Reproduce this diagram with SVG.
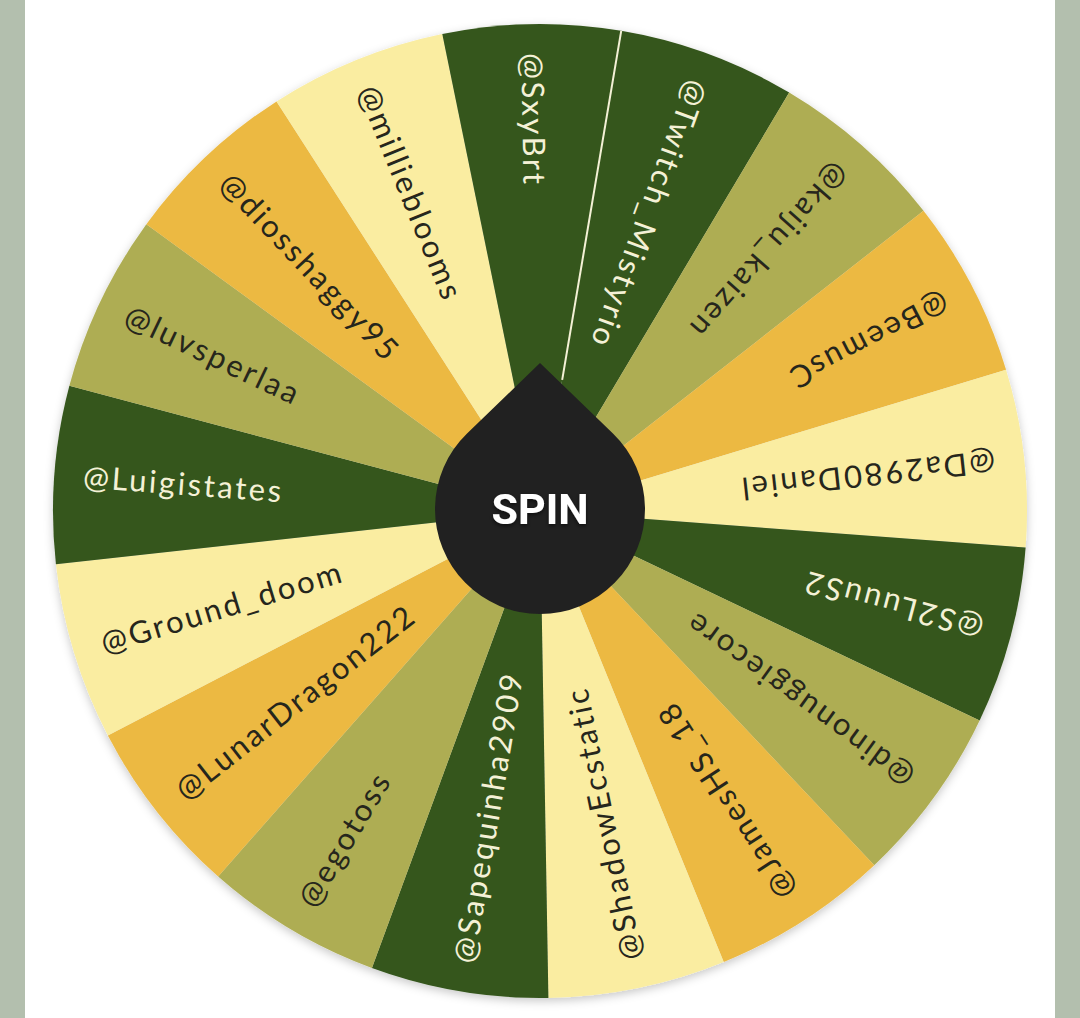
<svg xmlns="http://www.w3.org/2000/svg" width="1080" height="1018" viewBox="0 0 1080 1018">
<defs>
<style>
.dk{fill:#35561c}.ol{fill:#aead52}.mu{fill:#ecb942}.lt{fill:#faeda1}
.lbl{font-family:Lato,"Open Sans","DejaVu Sans",sans-serif;font-size:31px;letter-spacing:2.6px}
.tl{fill:#f4f1d6}.td{fill:#26261c}
.spin{font-family:Roboto,"Liberation Sans",sans-serif;font-weight:700;font-size:43px;fill:#ffffff}
</style>
<filter id="sh" x="-10%" y="-10%" width="120%" height="120%">
<feDropShadow dx="0" dy="3" stdDeviation="5" flood-color="#000" flood-opacity="0.22"/>
</filter>
<filter id="ts" x="-20%" y="-30%" width="140%" height="160%">
<feDropShadow dx="0" dy="2" stdDeviation="2" flood-color="#000" flood-opacity="0.6"/>
</filter>
</defs>
<rect x="0" y="0" width="1080" height="1018" fill="#b3bfae"/>
<rect x="25" y="0" width="1030" height="1018" fill="#ffffff"/>
<g id="wheel" filter="url(#sh)">
<path id="seg-twitch" class="dk" d="M540,511 L621.22,30.82 A487,487 0 0,1 789.19,92.58 Z"/>
<path id="seg-kaiju" class="ol" d="M540,511 L789.19,92.58 A487,487 0 0,1 923.52,210.86 Z"/>
<path id="seg-beemus" class="mu" d="M540,511 L923.52,210.86 A487,487 0 0,1 1006.04,369.66 Z"/>
<path id="seg-da2980" class="lt" d="M540,511 L1006.04,369.66 A487,487 0 0,1 1025.63,547.56 Z"/>
<path id="seg-s2luuus2" class="dk" d="M540,511 L1025.63,547.56 A487,487 0 0,1 979.64,720.53 Z"/>
<path id="seg-dinonuggie" class="ol" d="M540,511 L979.64,720.53 A487,487 0 0,1 874.25,865.19 Z"/>
<path id="seg-james" class="mu" d="M540,511 L874.25,865.19 A487,487 0 0,1 723.74,962.01 Z"/>
<path id="seg-shadow" class="lt" d="M540,511 L723.74,962.01 A487,487 0 0,1 548.40,997.93 Z"/>
<path id="seg-sapequinha" class="dk" d="M540,511 L548.40,997.93 A487,487 0 0,1 371.94,968.08 Z"/>
<path id="seg-egotoss" class="ol" d="M540,511 L371.94,968.08 A487,487 0 0,1 218.16,876.51 Z"/>
<path id="seg-lunar" class="mu" d="M540,511 L218.16,876.51 A487,487 0 0,1 107.87,735.56 Z"/>
<path id="seg-ground" class="lt" d="M540,511 L107.87,735.56 A487,487 0 0,1 55.92,564.29 Z"/>
<path id="seg-luigi" class="dk" d="M540,511 L55.92,564.29 A487,487 0 0,1 69.36,385.83 Z"/>
<path id="seg-luvs" class="ol" d="M540,511 L69.36,385.83 A487,487 0 0,1 146.36,224.26 Z"/>
<path id="seg-dios" class="mu" d="M540,511 L146.36,224.26 A487,487 0 0,1 276.52,101.42 Z"/>
<path id="seg-millie" class="lt" d="M540,511 L276.52,101.42 A487,487 0 0,1 442.27,33.91 Z"/>
<path id="seg-sxybrt" class="dk" d="M540,511 L442.27,33.91 A487,487 0 0,1 621.22,30.82 Z"/>
</g>
<g id="connectors">
<line x1="621.22" y1="30.82" x2="562.2" y2="379.9" stroke="#f4f1d6" stroke-width="2"/>
</g>
<g id="labels">
<text id="t-twitch" class="lbl tl" x="82" y="511" dy="0.35em" transform="rotate(-249.81 540 511)">@Twitch_Mistyrio</text>
<text id="t-kaiju" class="lbl td" x="82" y="511" dy="0.35em" transform="rotate(-228.64 540 511)">@kaiju_kaizen</text>
<text id="t-beemus" class="lbl td" x="82" y="511" dy="0.35em" transform="rotate(-207.46 540 511)">@BeemusC</text>
<text id="t-da2980" class="lbl td" x="82" y="511" dy="0.35em" transform="rotate(-186.28 540 511)">@Da2980Daniel</text>
<text id="t-s2luuus2" class="lbl tl" x="82" y="511" dy="0.35em" transform="rotate(-165.11 540 511)">@S2LuuuS2</text>
<text id="t-dinonuggie" class="lbl td" x="82" y="511" dy="0.35em" transform="rotate(-143.93 540 511)">@dinonuggiecore</text>
<text id="t-james" class="lbl td" x="82" y="511" dy="0.35em" transform="rotate(-122.75 540 511)">@JamesHS_18</text>
<text id="t-shadow" class="lbl td" x="82" y="511" dy="0.35em" transform="rotate(-101.58 540 511)">@ShadowEcstatic</text>
<text id="t-sapequinha" class="lbl tl" x="82" y="511" dy="0.35em" transform="rotate(-80.40 540 511)">@Sapequinha2909</text>
<text id="t-egotoss" class="lbl td" x="82" y="511" dy="0.35em" transform="rotate(-59.22 540 511)">@egotoss</text>
<text id="t-lunar" class="lbl td" x="82" y="511" dy="0.35em" transform="rotate(-38.05 540 511)">@LunarDragon222</text>
<text id="t-ground" class="lbl td" x="82" y="511" dy="0.35em" transform="rotate(-16.87 540 511)">@Ground_doom</text>
<text id="t-luigi" class="lbl tl" x="82" y="511" dy="0.35em" transform="rotate(4.31 540 511)">@Luigistates</text>
<text id="t-luvs" class="lbl td" x="82" y="511" dy="0.35em" transform="rotate(25.48 540 511)">@luvsperlaa</text>
<text id="t-dios" class="lbl td" x="82" y="511" dy="0.35em" transform="rotate(46.66 540 511)">@diosshaggy95</text>
<text id="t-millie" class="lbl td" x="82" y="511" dy="0.35em" transform="rotate(67.84 540 511)">@millieblooms</text>
<text id="t-sxybrt" class="lbl tl" x="82" y="511" dy="0.35em" transform="rotate(89.01 540 511)">@SxyBrt</text>
</g>
<g id="spin-button">
<path d="M540,363 L612.95,433.49 A105,105 0 1,1 467.05,433.49 Z" fill="#212121"/>
<text class="spin" x="540" y="509" dy="0.36em" text-anchor="middle" filter="url(#ts)">SPIN</text>
</g>
</svg>
